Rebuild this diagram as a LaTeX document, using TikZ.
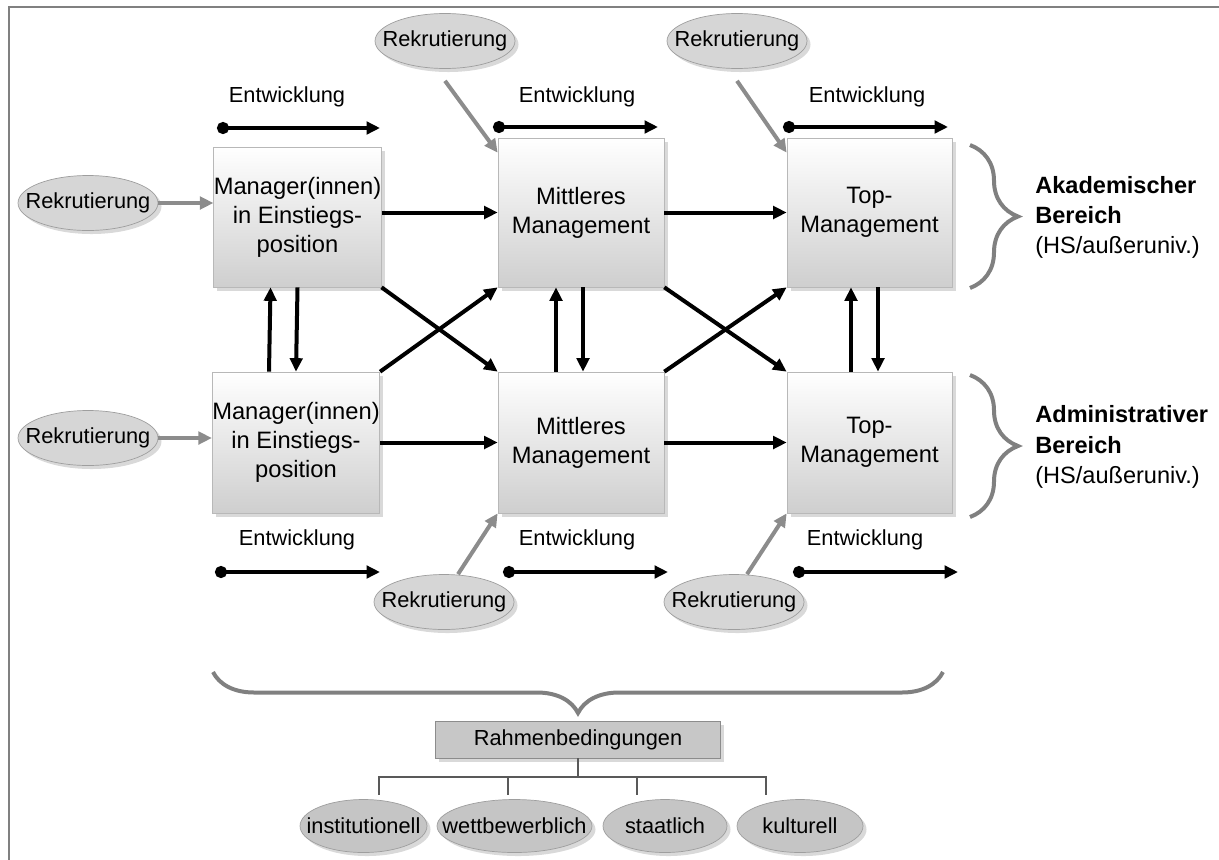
\documentclass[tikz,border=0pt]{standalone}
\usepackage{fontspec}
\setmainfont{Liberation Sans}
\usetikzlibrary{arrows.meta,shadows,shapes.geometric,decorations.pathreplacing}

\definecolor{boxline}{gray}{0.72}
\definecolor{ovalfill}{gray}{0.84}
\definecolor{ovalline}{gray}{0.62}
\definecolor{recgray}{gray}{0.55}
\definecolor{bracegray}{gray}{0.5}

\newcommand{\ovtext}[1]{\makebox[0pt]{#1}}

\begin{document}
\begin{tikzpicture}[x=0.02cm,y=-0.02cm]
  \tikzstyle{box}=[draw=boxline,top color=white,bottom color=black!19,minimum width=3.32cm,minimum height=2.82cm,inner sep=0pt,align=center,font=\fontsize{13.5}{16.5}\selectfont,drop shadow={opacity=0.3,shadow xshift=2pt,shadow yshift=-2pt}]
  \tikzstyle{rekr}=[ellipse,draw=ovalline,fill=ovalfill,minimum width=2.8cm,minimum height=1.1cm,inner sep=0pt,font=\fontsize{12.4}{15}\selectfont,drop shadow={opacity=0.3,shadow xshift=2pt,shadow yshift=-2pt}]
  \tikzstyle{bed}=[rekr,fill=ovalfill!92!black,minimum height=1.06cm]
  \tikzstyle{entw}=[inner sep=0pt,font=\fontsize{12.4}{15}\selectfont]
  \tikzstyle{lbl}=[inner sep=0pt,align=left,font=\fontsize{13.4}{17.3}\selectfont]
  \tikzstyle{arr}=[line width=0.08cm,-{Triangle[length=0.27cm,width=0.25cm]}]
  \tikzstyle{garr}=[arr,draw=recgray]
  \tikzstyle{entwarr}=[line width=0.08cm,{Circle[length=0.24cm]}-{Triangle[length=0.27cm,width=0.25cm]}]
  \tikzstyle{brc}=[draw=bracegray,line width=0.08cm,decorate,decoration={brace,amplitude=0.96cm}]
  \tikzstyle{tree}=[draw=black!65,line width=0.04cm]

  \useasboundingbox (0,0) rectangle (1219,859);
  \draw[draw=black!50,line width=0.04cm] (9,870) -- (9,7) -- (1230,7);

  % Kaestchen
  \node[box,minimum height=2.8cm] (A1) at (297.5,217) {Manager(innen)\\in Einstiegs-\\position};
  \node[box,minimum height=2.98cm] (M1) at (581,212.5) {Mittleres\\Management};
  \node[box,minimum width=3.3cm,minimum height=2.98cm] (T1) at (869.5,212.5) {Top-\\Management};
  \node[box] (A2) at (296,442.5) {Manager(innen)\\in Einstiegs-\\position};
  \node[box] (M2) at (581,442.5) {Mittleres\\Management};
  \node[box,minimum width=3.3cm] (T2) at (869.5,442.5) {Top-\\Management};

  \node[rekr] (RT1) at (445,41) {\ovtext{Rekrutierung}};
  \node[rekr] (RT2) at (737,41) {\ovtext{Rekrutierung}};
  \node[rekr] (RL1) at (88,203) {\ovtext{Rekrutierung}};
  \node[rekr] (RL2) at (88,438) {\ovtext{Rekrutierung}};
  \node[rekr] (RB1) at (444,602) {\ovtext{Rekrutierung}};
  \node[rekr] (RB2) at (734,602) {\ovtext{Rekrutierung}};

  \foreach \i/\lx/\ly/\ax/\bx/\ay in {1/287/97/217/380/128, 2/577/97/493/658/127, 3/867/97/783/948/127,
                                      4/297/540/215/380/572, 5/577/540/503/668/572, 6/865/540/793/958/572} {
    \node[entw] (ent\i) at (\lx,\ly) {Entwicklung};
    \coordinate (ea\i) at (\ax,\ay);
    \coordinate (eb\i) at (\bx,\ay);
    \draw[entwarr] (ea\i) -- (eb\i);
  }

  \draw[arr] (A1.east |- M1.west) -- (M1.west);
  \draw[arr] (M1) -- (T1);
  \draw[arr] (A2) -- (M2);
  \draw[arr] (M2) -- (T2);

  \foreach \u/\l/\s/\t in {A2/A1/-0.54/0, M2/M1/-0.5/0.04, T2/T1/-0.37/0.17} {
    \draw[arr] ([xshift=\s cm]\u.north) -- ([xshift=\s cm]\l.south);
    \draw[arr] ([xshift=\t cm]\l.south) -- ([xshift=\t cm]\u.north);
  }

  \draw[arr] (A1.south east) -- (M2.north west);
  \draw[arr] (A2.north east) -- (M1.south west);
  \draw[arr] (M1.south east) -- (T2.north west);
  \draw[arr] (M2.north east) -- (T1.south west);

  \draw[garr] (RL1) -- (RL1 -| A1.west);
  \draw[garr] (RL2) -- (RL2 -| A2.west);
  \draw[garr] ([yshift=-0.24cm]RT1.south) -- ([yshift=-0.3cm]M1.north west);
  \draw[garr] ([yshift=-0.24cm]RT2.south) -- ([yshift=-0.3cm]T1.north west);
  \draw[garr] ([xshift=0.28cm]RB1.north) -- (M2.south west);
  \draw[garr] ([xshift=0.26cm]RB2.north) -- (T2.south west);

  % Bereiche
  \draw[brc] (970,145) -- (970,288);
  \draw[brc] (970,375) -- (970,517);
  \node[lbl,anchor=west] (akad) at (1035,217.5) {\textbf{Akademischer}\\\textbf{Bereich}\\(HS/außeruniv.)};
  \node[lbl,anchor=west] (admin) at (1035,447) {\textbf{Administrativer}\\\textbf{Bereich}\\(HS/außeruniv.)};

  % Rahmenbedingungen
  \draw[brc,decoration={brace,mirror,amplitude=0.82cm}] (213,672) -- (943,672);
  \node[draw=black!45,fill=black!22,minimum width=5.7cm,minimum height=0.74cm,inner sep=0pt,font=\fontsize{12.4}{15}\selectfont,drop shadow={opacity=0.3,shadow xshift=2pt,shadow yshift=-2pt}] (rb) at (578,739.5) {Rahmenbedingungen};

  \node[bed,minimum width=2.54cm] (inst) at (363.5,826) {\ovtext{institutionell}};
  \node[bed,minimum width=3.1cm] (wett) at (514.5,826) {\ovtext{wettbewerblich}};
  \node[bed,minimum width=2.48cm] (staat) at (665,826) {\ovtext{staatlich}};
  \node[bed,minimum width=2.52cm] (kult) at (800,826) {\ovtext{kulturell}};

  \coordinate (d1) at (379,795);
  \coordinate (d2) at (508,795);
  \coordinate (d3) at (637,795);
  \coordinate (d4) at (766,795);
  \foreach \d in {d1,d2,d3,d4}
    \draw[tree] (rb.south) -- ++(0,19) -| (\d);

\end{tikzpicture}
\end{document}
